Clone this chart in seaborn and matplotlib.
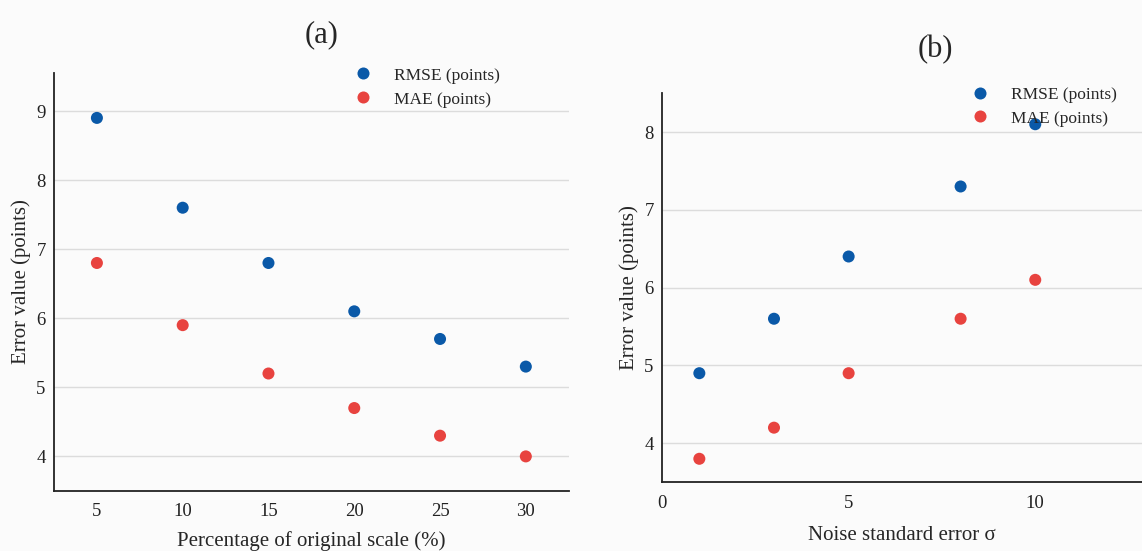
import numpy as np
import pandas as pd
import matplotlib
matplotlib.use('Agg')
import matplotlib.pyplot as plt
import seaborn as sns

# data panel (a)
scale_pct = [5, 10, 15, 20, 25, 30]
rmse_a = [8.9, 7.6, 6.8, 6.1, 5.7, 5.3]
mae_a = [6.8, 5.9, 5.2, 4.7, 4.3, 4.0]

# data panel (b)
noise_sigma = [1, 3, 5, 8, 10]
rmse_b = [4.9, 5.6, 6.4, 7.3, 8.1]
mae_b = [3.8, 4.2, 4.9, 5.6, 6.1]

series_names = ['RMSE (points)', 'MAE (points)']
colors = {'RMSE (points)': '#0a59a8', 'MAE (points)': '#e8433f'}

sns.set_theme(style='whitegrid')
plt.rcParams['font.family'] = ['Liberation Serif', 'DejaVu Serif']

df_a = pd.DataFrame({'x': scale_pct * 2,
                     'y': rmse_a + mae_a,
                     'series': [series_names[0]] * 6 + [series_names[1]] * 6})
df_b = pd.DataFrame({'x': noise_sigma * 2,
                     'y': rmse_b + mae_b,
                     'series': [series_names[0]] * 5 + [series_names[1]] * 5})

fig = plt.figure(figsize=(11.42, 5.51), dpi=100)
fig.patch.set_facecolor('#fbfbfb')
ax1 = fig.add_axes([0.0473, 0.109, 0.4507, 0.7585])
ax2 = fig.add_axes([0.5797, 0.125, 0.4203, 0.706])

legend_pos = {ax1: (0.88, 1.03), ax2: (0.963, 1.035)}

for ax, df in [(ax1, df_a), (ax2, df_b)]:
    ax.set_facecolor('#fbfbfb')
    sns.scatterplot(data=df, x='x', y='y', hue='series', palette=colors,
                    s=75, edgecolor='none', ax=ax, clip_on=False, zorder=3)
    ax.grid(axis='x', visible=False)
    ax.grid(axis='y', color='#dcdcdc', linewidth=1)
    for side in ['top', 'right']:
        ax.spines[side].set_visible(False)
    for side in ['left', 'bottom']:
        ax.spines[side].set_color('#222222')
        ax.spines[side].set_linewidth(1.3)
    ax.tick_params(axis='both', length=0, labelsize=13.5, colors='#222222')
    ax.tick_params(axis='x', pad=9)
    ax.tick_params(axis='y', pad=6)
    ax.legend(loc='upper right', bbox_to_anchor=legend_pos[ax], frameon=False,
              fontsize=12.5, handletextpad=0.8, labelspacing=0.45,
              borderaxespad=0.0)

# panel (a)
ax1.set_xlim(2.5, 32.5)
ax1.set_ylim(3.5, 9.55)
ax1.set_xticks(scale_pct)
ax1.set_yticks([4, 5, 6, 7, 8, 9])
ax1.set_xlabel('Percentage of original scale (%)', fontsize=15, labelpad=8)
ax1.set_ylabel('Error value (points)', fontsize=15, labelpad=4)
ax1.set_title('(a)', fontsize=22, pad=22, x=0.52)

# panel (b)
ax2.set_xlim(0, 12.86)
ax2.set_ylim(3.5, 8.5)
ax2.set_xticks([0, 5, 10])
ax2.set_yticks([4, 5, 6, 7, 8])
ax2.set_xlabel('Noise standard error σ', fontsize=15, labelpad=10)
ax2.set_ylabel('Error value (points)', fontsize=15, labelpad=4)
ax2.set_title('(b)', fontsize=22, pad=26, x=0.569)

fig.savefig('out.png', dpi=100, facecolor=fig.get_facecolor())
